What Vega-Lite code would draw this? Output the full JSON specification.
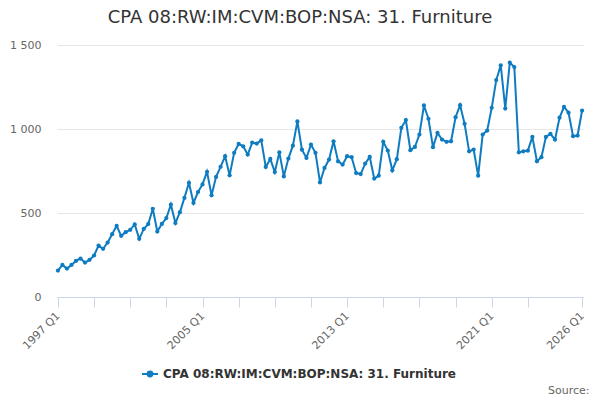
{
  "$schema": "https://vega.github.io/schema/vega-lite/v6.json",
  "width": 526,
  "height": 252,
  "autosize": "none",
  "padding": {"left": 57, "top": 45, "right": 17, "bottom": 103},
  "background": "white",
  "config": {"font": "DejaVu Sans", "view": {"stroke": null}},
  "title": {
    "text": "CPA 08:RW:IM:CVM:BOP:NSA: 31. Furniture",
    "fontSize": 18,
    "fontWeight": "normal",
    "color": "#333333",
    "anchor": "middle",
    "dx": -20,
    "offset": 12
  },
  "data": {
    "values": [
      {"q": "1997 Q1", "v": 157}, {"q": "1997 Q2", "v": 191}, {"q": "1997 Q3", "v": 169}, {"q": "1997 Q4", "v": 191},
      {"q": "1998 Q1", "v": 215}, {"q": "1998 Q2", "v": 229}, {"q": "1998 Q3", "v": 205}, {"q": "1998 Q4", "v": 221},
      {"q": "1999 Q1", "v": 247}, {"q": "1999 Q2", "v": 306}, {"q": "1999 Q3", "v": 287}, {"q": "1999 Q4", "v": 324},
      {"q": "2000 Q1", "v": 374}, {"q": "2000 Q2", "v": 424}, {"q": "2000 Q3", "v": 364}, {"q": "2000 Q4", "v": 386},
      {"q": "2001 Q1", "v": 400}, {"q": "2001 Q2", "v": 432}, {"q": "2001 Q3", "v": 346}, {"q": "2001 Q4", "v": 405},
      {"q": "2002 Q1", "v": 435}, {"q": "2002 Q2", "v": 525}, {"q": "2002 Q3", "v": 390}, {"q": "2002 Q4", "v": 435},
      {"q": "2003 Q1", "v": 470}, {"q": "2003 Q2", "v": 550}, {"q": "2003 Q3", "v": 440}, {"q": "2003 Q4", "v": 505},
      {"q": "2004 Q1", "v": 590}, {"q": "2004 Q2", "v": 680}, {"q": "2004 Q3", "v": 560}, {"q": "2004 Q4", "v": 625},
      {"q": "2005 Q1", "v": 670}, {"q": "2005 Q2", "v": 745}, {"q": "2005 Q3", "v": 605}, {"q": "2005 Q4", "v": 715},
      {"q": "2006 Q1", "v": 775}, {"q": "2006 Q2", "v": 838}, {"q": "2006 Q3", "v": 724}, {"q": "2006 Q4", "v": 858},
      {"q": "2007 Q1", "v": 911}, {"q": "2007 Q2", "v": 897}, {"q": "2007 Q3", "v": 848}, {"q": "2007 Q4", "v": 919},
      {"q": "2008 Q1", "v": 913}, {"q": "2008 Q2", "v": 933}, {"q": "2008 Q3", "v": 774}, {"q": "2008 Q4", "v": 822},
      {"q": "2009 Q1", "v": 744}, {"q": "2009 Q2", "v": 861}, {"q": "2009 Q3", "v": 718}, {"q": "2009 Q4", "v": 824},
      {"q": "2010 Q1", "v": 901}, {"q": "2010 Q2", "v": 1045}, {"q": "2010 Q3", "v": 877}, {"q": "2010 Q4", "v": 828},
      {"q": "2011 Q1", "v": 907}, {"q": "2011 Q2", "v": 858}, {"q": "2011 Q3", "v": 682}, {"q": "2011 Q4", "v": 768},
      {"q": "2012 Q1", "v": 818}, {"q": "2012 Q2", "v": 927}, {"q": "2012 Q3", "v": 808}, {"q": "2012 Q4", "v": 788},
      {"q": "2013 Q1", "v": 838}, {"q": "2013 Q2", "v": 832}, {"q": "2013 Q3", "v": 738}, {"q": "2013 Q4", "v": 732},
      {"q": "2014 Q1", "v": 794}, {"q": "2014 Q2", "v": 834}, {"q": "2014 Q3", "v": 705}, {"q": "2014 Q4", "v": 722},
      {"q": "2015 Q1", "v": 924}, {"q": "2015 Q2", "v": 872}, {"q": "2015 Q3", "v": 754}, {"q": "2015 Q4", "v": 820},
      {"q": "2016 Q1", "v": 1007}, {"q": "2016 Q2", "v": 1053}, {"q": "2016 Q3", "v": 874}, {"q": "2016 Q4", "v": 893},
      {"q": "2017 Q1", "v": 967}, {"q": "2017 Q2", "v": 1140}, {"q": "2017 Q3", "v": 1061}, {"q": "2017 Q4", "v": 892},
      {"q": "2018 Q1", "v": 977}, {"q": "2018 Q2", "v": 937}, {"q": "2018 Q3", "v": 924}, {"q": "2018 Q4", "v": 927},
      {"q": "2019 Q1", "v": 1070}, {"q": "2019 Q2", "v": 1142}, {"q": "2019 Q3", "v": 1031}, {"q": "2019 Q4", "v": 867},
      {"q": "2020 Q1", "v": 878}, {"q": "2020 Q2", "v": 722}, {"q": "2020 Q3", "v": 967}, {"q": "2020 Q4", "v": 991},
      {"q": "2021 Q1", "v": 1126}, {"q": "2021 Q2", "v": 1291}, {"q": "2021 Q3", "v": 1379}, {"q": "2021 Q4", "v": 1122},
      {"q": "2022 Q1", "v": 1395}, {"q": "2022 Q2", "v": 1369}, {"q": "2022 Q3", "v": 861}, {"q": "2022 Q4", "v": 867},
      {"q": "2023 Q1", "v": 871}, {"q": "2023 Q2", "v": 953}, {"q": "2023 Q3", "v": 808}, {"q": "2023 Q4", "v": 832},
      {"q": "2024 Q1", "v": 953}, {"q": "2024 Q2", "v": 971}, {"q": "2024 Q3", "v": 937}, {"q": "2024 Q4", "v": 1067},
      {"q": "2025 Q1", "v": 1132}, {"q": "2025 Q2", "v": 1097}, {"q": "2025 Q3", "v": 957}, {"q": "2025 Q4", "v": 961},
      {"q": "2026 Q1", "v": 1110}
    ]
  },
  "mark": {
    "type": "line",
    "strokeWidth": 2,
    "point": {"filled": true, "size": 18}
  },
  "encoding": {
    "x": {
      "field": "q",
      "type": "ordinal",
      "scale": {"type": "point", "padding": 0.2},
      "axis": {
        "title": "Source:",
        "titleAnchor": "end",
        "titleAlign": "right",
        "titleBaseline": "alphabetic",
        "titleX": 532,
        "titleY": 96,
        "titleFontSize": 11,
        "titleFontWeight": "normal",
        "titleColor": "#666666",
        "values": ["1997 Q1", "1999 Q1", "2001 Q1", "2003 Q1", "2005 Q1", "2007 Q1", "2009 Q1", "2011 Q1", "2013 Q1", "2015 Q1", "2017 Q1", "2019 Q1", "2021 Q1", "2023 Q1", "2026 Q1"],
        "labelExpr": "indexof(['1997 Q1', '2005 Q1', '2013 Q1', '2021 Q1', '2026 Q1'], datum.value) >= 0 ? datum.value : ''",
        "labelAngle": -45,
        "labelAlign": "right",
        "labelBaseline": "middle",
        "labelFontSize": 11,
        "labelColor": "#666666",
        "labelOverlap": false,
        "labelBound": false,
        "labelPadding": 7,
        "domainColor": "#ccd6eb",
        "tickColor": "#ccd6eb",
        "tickSize": 10,
        "grid": false
      }
    },
    "y": {
      "field": "v",
      "type": "quantitative",
      "scale": {"domain": [0, 1500]},
      "axis": {
        "title": null,
        "values": [0, 500, 1000, 1500],
        "labelExpr": "replace(format(datum.value, ','), ',', ' ')",
        "labelFontSize": 11,
        "labelColor": "#666666",
        "labelPadding": 16,
        "domain": false,
        "ticks": false,
        "gridColor": "#e6e6e6"
      }
    },
    "color": {
      "datum": "CPA 08:RW:IM:CVM:BOP:NSA: 31. Furniture",
      "type": "nominal",
      "scale": {"range": ["#0f7cc1"]},
      "legend": {
        "title": null,
        "orient": "none",
        "legendX": 84,
        "legendY": 320,
        "labelFontSize": 12,
        "labelFontWeight": "bold",
        "labelColor": "#333333",
        "labelLimit": 400,
        "symbolType": "M-1,0H1M-0.3,0a0.3,0.3 0 1,0 0.6,0a0.3,0.3 0 1,0 -0.6,0",
        "symbolSize": 256,
        "symbolStrokeWidth": 2,
        "symbolFillColor": "#0f7cc1",
        "symbolStrokeColor": "#0f7cc1"
      }
    }
  }
}
